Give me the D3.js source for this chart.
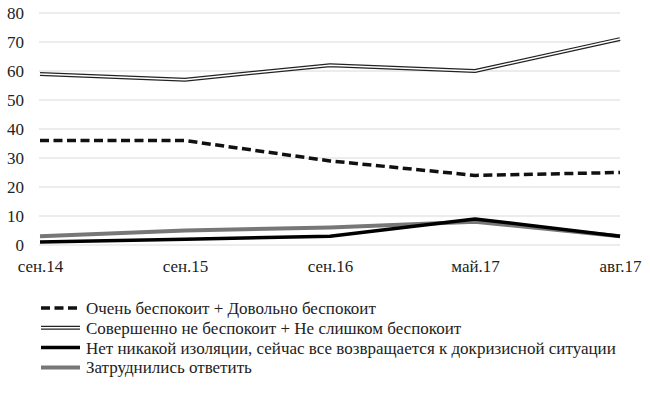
<!DOCTYPE html>
<html>
<head>
<meta charset="utf-8">
<script src="https://cdn.jsdelivr.net/npm/d3@7"></script>
<style>
  body { margin: 0; background: #fff; }
  svg text { font-family: "Liberation Serif", "Times New Roman", serif; }
</style>
</head>
<body>
<svg id="chart"></svg>
<script>
// Data
const categories = ["сен.14", "сен.15", "сен.16", "май.17", "авг.17"];
const worried = [36, 36, 29, 24, 25];
const notWorried = [59, 57, 62, 60, 71];
const noIsolation = [1, 2, 3, 9, 3];
const hardToSay = [3, 5, 6, 8, 3];
const yTicks = [0, 10, 20, 30, 40, 50, 60, 70, 80];
const seriesNames = [
  "Очень беспокоит + Довольно беспокоит",
  "Совершенно не беспокоит + Не слишком беспокоит",
  "Нет никакой изоляции, сейчас все возвращается к докризисной ситуации",
  "Затруднились ответить"
];

// Chart Dimensions
const width = 650;
const height = 395;
const margin = { left: 40, right: 30, top: 13, bottom: 150 };
const fontSize = "17px";

const svg = d3.select("#chart").attr("width", width).attr("height", height);

// Scales
const xScale = d3
  .scalePoint()
  .domain(categories)
  .range([margin.left, width - margin.right]);

const yScale = d3
  .scaleLinear()
  .domain([0, 80])
  .range([height - margin.bottom, margin.top]);

// Gridlines
svg
  .append("g")
  .selectAll("line")
  .data(yTicks)
  .enter()
  .append("line")
  .attr("x1", margin.left - 1)
  .attr("x2", width - margin.right)
  .attr("y1", (d) => yScale(d))
  .attr("y2", (d) => yScale(d))
  .attr("stroke", "#d9d9d9")
  .attr("stroke-width", 1);

// Axes
const yAxis = d3.axisLeft(yScale).tickValues(yTicks).tickSize(0).tickPadding(16);
svg
  .append("g")
  .attr("transform", `translate(${margin.left}, 0)`)
  .call(yAxis)
  .attr("font-family", null)
  .call((g) => g.select(".domain").remove())
  .selectAll("text")
  .style("font-size", fontSize)
  .attr("fill", "#222");

const xAxis = d3.axisBottom(xScale).tickSize(0).tickPadding(15);
svg
  .append("g")
  .attr("transform", `translate(0, ${height - margin.bottom})`)
  .call(xAxis)
  .attr("font-family", null)
  .call((g) => g.select(".domain").remove())
  .selectAll("text")
  .style("font-size", fontSize)
  .attr("fill", "#222");

// Line styles
const styles = [
  { values: worried, stroke: "#111", width: 3.5, dash: "9,4.5" },
  { values: notWorried, stroke: "#222", width: 4, inner: true },
  { values: noIsolation, stroke: "#000", width: 3.5 },
  { values: hardToSay, stroke: "#777", width: 4 }
];

const line = d3
  .line()
  .x((d, i) => xScale(categories[i]))
  .y((d) => yScale(d));

// draw gray and black first so black shows on top where they cross
[3, 2, 0, 1].forEach((k) => {
  const s = styles[k];
  svg
    .append("path")
    .attr("d", line(s.values))
    .attr("fill", "none")
    .attr("stroke", s.stroke)
    .attr("stroke-width", s.width)
    .attr("stroke-dasharray", s.dash || null)
    .attr("stroke-linejoin", "round");
  if (s.inner) {
    svg
      .append("path")
      .attr("d", line(s.values))
      .attr("fill", "none")
      .attr("stroke", "#fff")
      .attr("stroke-width", 1.5)
      .attr("stroke-linejoin", "round");
  }
});

// Legend
const legend = svg.append("g").attr("transform", "translate(41, 308)");
const rowH = 19.8;

styles.forEach((s, i) => {
  const row = legend.append("g").attr("transform", `translate(0, ${i * rowH})`);
  row
    .append("line")
    .attr("x1", 0)
    .attr("x2", 39)
    .attr("stroke", s.stroke)
    .attr("stroke-width", s.width)
    .attr("stroke-dasharray", s.dash || null);
  if (s.inner) {
    row
      .append("line")
      .attr("x1", 0)
      .attr("x2", 39)
      .attr("stroke", "#fff")
      .attr("stroke-width", 1.5);
  }
  row
    .append("text")
    .attr("x", 45)
    .attr("dy", "0.35em")
    .style("font-size", fontSize)
    .attr("fill", "#222")
    .text(seriesNames[i]);
});
</script>
</body>
</html>
